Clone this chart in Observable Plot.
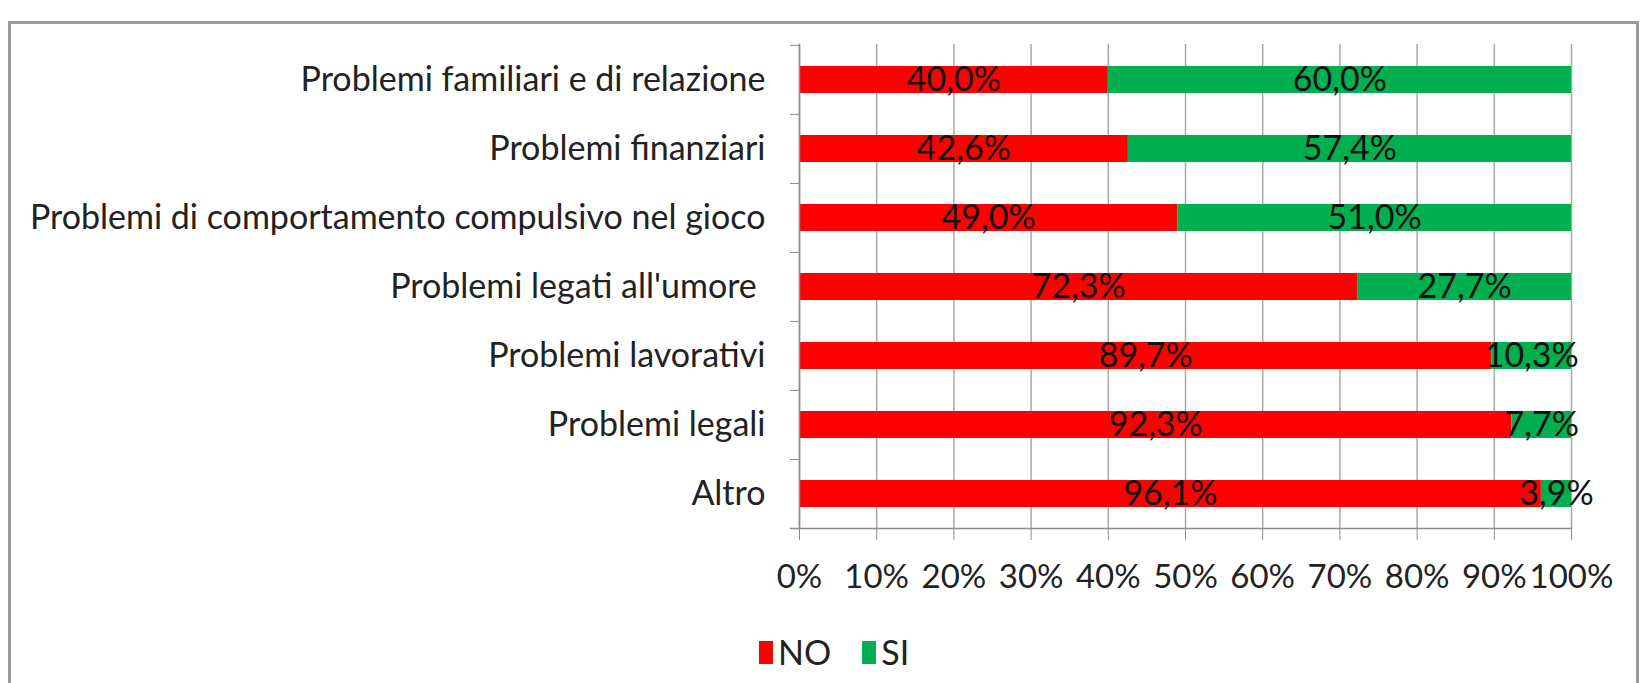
<!DOCTYPE html>
<html>
<head>
<meta charset="utf-8">
<script src="https://cdn.jsdelivr.net/npm/d3@7"></script>
<script src="https://cdn.jsdelivr.net/npm/@observablehq/plot@0.6"></script>
<style>
  html, body { margin: 0; padding: 0; background: #fff; width: 1649px; height: 683px; overflow: hidden; }
  #frame { position: absolute; left: 8px; top: 21px; width: 1631px; height: 700px;
           border: 3px solid #9a9a9a; border-bottom: none; box-sizing: border-box; }
  #chart { position: absolute; left: 0; top: 0; }
  #chart text { white-space: pre; }
  #legend { position: absolute; left: 759px; top: 639px; font-family: Lato, "Liberation Sans", sans-serif;
            font-size: 34px; color: #222; display: flex; align-items: center; line-height: 26px; }
  #legend .sw { display: inline-block; width: 14px; height: 23px; margin-right: 5px; }
  #legend .item { display: flex; align-items: center; margin-right: 31px; }
</style>
</head>
<body>
<div id="frame"></div>
<div id="chart"></div>
<div id="legend"></div>
<script>
const categories = [
  "Problemi familiari e di relazione",
  "Problemi finanziari",
  "Problemi di comportamento compulsivo nel gioco",
  "Problemi legati all'umore ",
  "Problemi lavorativi",
  "Problemi legali",
  "Altro"
];
const seriesNames = ["NO", "SI"];
const seriesColors = ["#ff0000", "#00b050"];
const noValues = [40.0, 42.6, 49.0, 72.3, 89.7, 92.3, 96.1];
const siValues = [60.0, 57.4, 51.0, 27.7, 10.3, 7.7, 3.9];
const xTicks = [0, 10, 20, 30, 40, 50, 60, 70, 80, 90, 100];

const data = categories.flatMap((c, i) => [
  {cat: c, resp: "NO", value: noValues[i]},
  {cat: c, resp: "SI", value: siValues[i]}
]);
const fmt = v => v.toFixed(1).replace(".", ",") + "%";

const W = 1649, H = 600, mL = 799, mR = 78, mT = 44, mB = 72;
const band = (H - mT - mB) / categories.length;
const font = 'Lato, "Liberation Sans", sans-serif';

const chart = Plot.plot({
  width: W, height: H,
  marginLeft: mL, marginRight: mR, marginTop: mT, marginBottom: mB,
  style: {fontFamily: font, fontSize: "33px", color: "#222", background: "transparent", overflow: "visible"},
  x: {domain: [0, 100]},
  y: {domain: categories, padding: 0},
  color: {domain: seriesNames, range: seriesColors},
  marks: [
    Plot.gridX({ticks: xTicks, stroke: "#a8a8a8", strokeOpacity: 1, strokeWidth: 1.5}),
    Plot.barX(data, Plot.stackX({x: "value", y: "cat", fill: "resp", insetTop: 21, insetBottom: 21})),
    Plot.text(data, Plot.stackX({x: "value", y: "cat", text: d => fmt(d.value), fill: "#111", fontSize: 34})),
    Plot.axisX({ticks: xTicks, tickFormat: d => d + "%", tickSize: 12, tickPadding: 24, stroke: "#8c8c8c", label: null, fontSize: 33}),
    Plot.axisY({tickSize: 0, tickPadding: 34, label: null, fontSize: 34}),
    Plot.axisY({tickSize: 9, dy: -band / 2, tickFormat: () => "", stroke: "#8c8c8c", label: null}),
    Plot.frame({anchor: "left", stroke: "#8c8c8c", strokeWidth: 1.5}),
    Plot.frame({anchor: "bottom", stroke: "#8c8c8c", strokeWidth: 1.5, insetLeft: -9})
  ]
});
document.getElementById("chart").appendChild(chart);

const legend = document.getElementById("legend");
seriesNames.forEach((n, i) => {
  const item = document.createElement("span");
  item.className = "item";
  const sw = document.createElement("span");
  sw.className = "sw";
  sw.style.background = seriesColors[i];
  item.appendChild(sw);
  item.appendChild(document.createTextNode(n));
  legend.appendChild(item);
});
</script>
</body>
</html>
